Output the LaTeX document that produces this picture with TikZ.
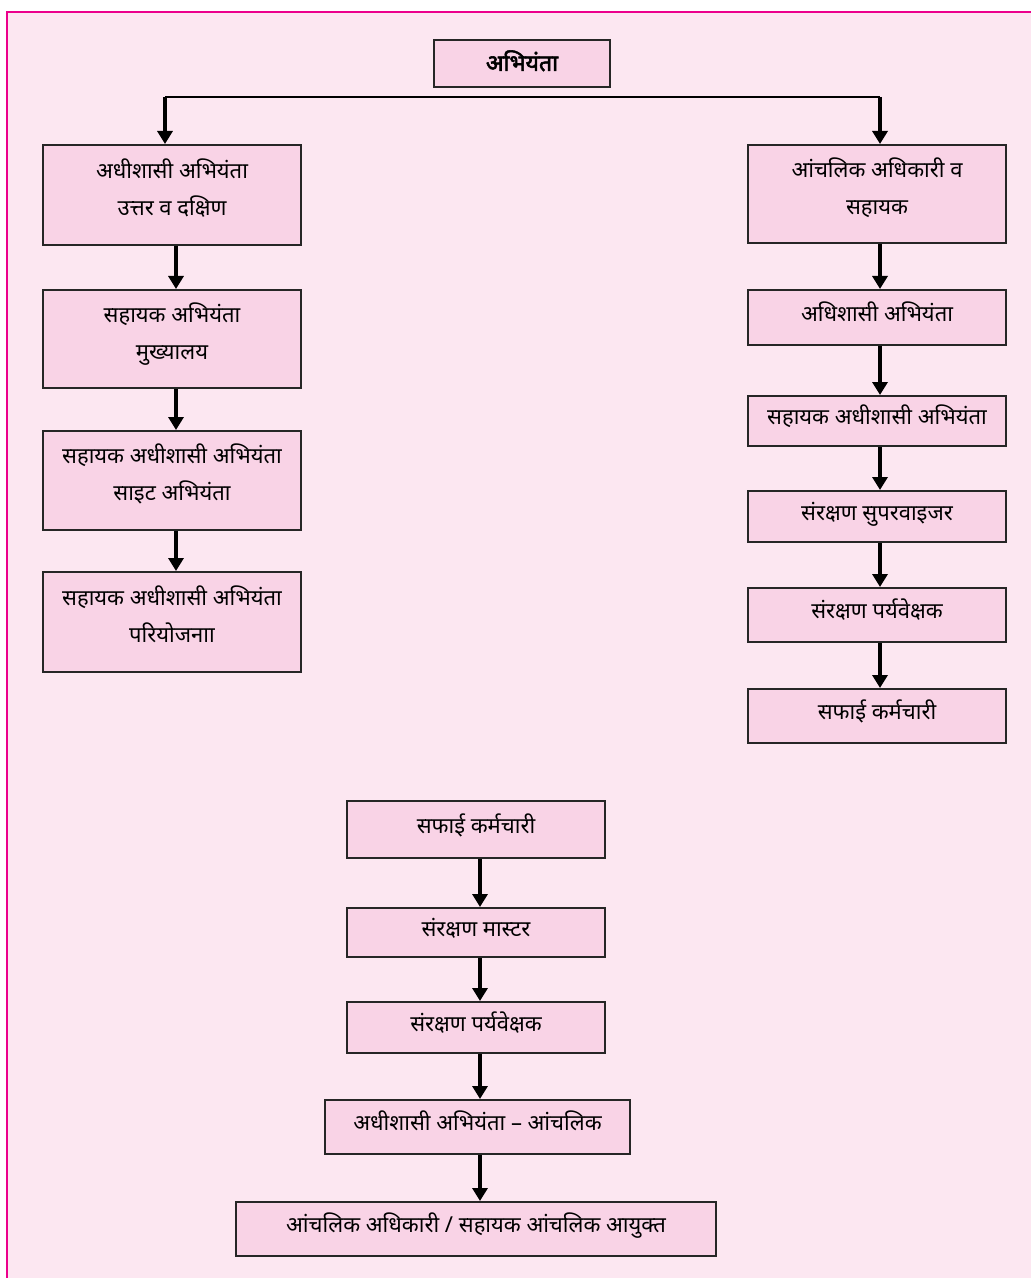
\documentclass[tikz,border=0pt]{standalone}
\usepackage{fontspec}
\setmainfont[Script=Devanagari]{Noto Sans}
\newfontfamily\boldhindi[Script=Devanagari,FakeBold=2.5]{Noto Sans}
\usetikzlibrary{arrows.meta}
\definecolor{pagepink}{HTML}{FCE7F1}
\definecolor{boxpink}{HTML}{F9D3E6}
\definecolor{rulepink}{HTML}{EC008C}
\newcommand{\boxtext}[2][-1pt]{\raisebox{#1}[0pt][0pt]{\begin{tabular}{@{}c@{}}#2\end{tabular}}}

\begin{document}
\begin{tikzpicture}[x=0.5pt,y=-0.5pt]
\useasboundingbox (0,0) rectangle (1031,1278);
\fill[pagepink] (7,12) rectangle (1031,1278);
\draw[rulepink, line width=1pt] (7,1278) -- (7,12) -- (1031,12);

\begin{scope}[every node/.style={rectangle,draw=black!85,line width=1pt,fill=boxpink,
              inner sep=0pt,minimum width=129pt,
              font=\fontsize{11}{18.5}\selectfont}]
    \node[minimum width=88pt,minimum height=23.5pt,font=\fontsize{11.5}{18.5}\boldhindi] (top) at (522,63.5) {\boxtext[-3pt]{अभियंता}};
    % left column
    \node[minimum height=50pt] (L1) at (172,195) {\boxtext[0pt]{अधीशासी अभियंता\\उत्तर व दक्षिण}};
    \node[minimum height=49pt] (L2) at (172,339) {\boxtext[0pt]{सहायक अभियंता\\मुख्यालय}};
    \node[minimum height=49.5pt] (L3) at (172,480.5) {\boxtext[0pt]{सहायक अधीशासी अभियंता\\साइट अभियंता}};
    \node[minimum height=50pt] (L4) at (172,622) {\boxtext[0pt]{सहायक अधीशासी अभियंता\\परियोजनाा}};
    % right column
    \node[minimum height=49pt] (R1) at (877,194) {\boxtext[0pt]{आंचलिक अधिकारी व\\सहायक}};
    \node[minimum height=27.5pt] (R2) at (877,317.5) {\boxtext{अधिशासी अभियंता}};
    \node[minimum height=25pt] (R3) at (877,421) {\boxtext{सहायक अधीशासी अभियंता}};
    \node[minimum height=25.5pt] (R4) at (877,516.5) {\boxtext{संरक्षण सुपरवाइजर}};
    \node[minimum height=27pt] (R5) at (877,615) {\boxtext{संरक्षण पर्यवेक्षक}};
    \node[minimum height=27pt] (R6) at (877,716) {\boxtext{सफाई कर्मचारी}};
    % bottom column
    \node[minimum height=28.5pt] (B1) at (476,829.5) {\boxtext{सफाई कर्मचारी}};
    \node[minimum height=24.5pt] (B2) at (476,932.5) {\boxtext{संरक्षण मास्टर}};
    \node[minimum height=25.5pt] (B3) at (476,1027.5) {\boxtext{संरक्षण पर्यवेक्षक}};
    \node[minimum width=152.5pt,minimum height=27pt] (B4) at (477.5,1127) {\boxtext{अधीशासी अभियंता – आंचलिक}};
    \node[minimum width=240pt,minimum height=27pt] (B5) at (476,1229) {\boxtext{आंचलिक अधिकारी / सहायक आंचलिक आयुक्त}};
\end{scope}

\coordinate (splitL) at (165,97);
\coordinate (splitR) at (880,97);
\draw[black, line width=1pt] (splitL) -- (splitR);

\begin{scope}[>={Triangle[length=6.5pt,width=7.5pt]},
              every edge/.style={draw=black, line width=1.8pt}]
    \path [->] (splitL) edge (splitL |- L1.north);
    \path [->] (splitR) edge (splitR |- R1.north);
    \path [->] ([xshift=2pt]L1.south) edge ([xshift=2pt]L1.south |- L2.north);
    \path [->] ([xshift=2pt]L2.south) edge ([xshift=2pt]L2.south |- L3.north);
    \path [->] ([xshift=2pt]L3.south) edge ([xshift=2pt]L3.south |- L4.north);
    \path [->] ([xshift=1.5pt]R1.south) edge ([xshift=1.5pt]R1.south |- R2.north);
    \path [->] ([xshift=1.5pt]R2.south) edge ([xshift=1.5pt]R2.south |- R3.north);
    \path [->] ([xshift=1.5pt]R3.south) edge ([xshift=1.5pt]R3.south |- R4.north);
    \path [->] ([xshift=1.5pt]R4.south) edge ([xshift=1.5pt]R4.south |- R5.north);
    \path [->] ([xshift=1.5pt]R5.south) edge ([xshift=1.5pt]R5.south |- R6.north);
    \path [->] ([xshift=2pt]B1.south) edge ([xshift=2pt]B1.south |- B2.north);
    \path [->] ([xshift=2pt]B2.south) edge ([xshift=2pt]B2.south |- B3.north);
    \path [->] ([xshift=2pt]B3.south) edge ([xshift=2pt]B3.south |- B4.north);
    \path [->] ([xshift=2pt]B3.south |- B4.south) edge ([xshift=2pt]B3.south |- B5.north);
\end{scope}
\end{tikzpicture}
\end{document}
